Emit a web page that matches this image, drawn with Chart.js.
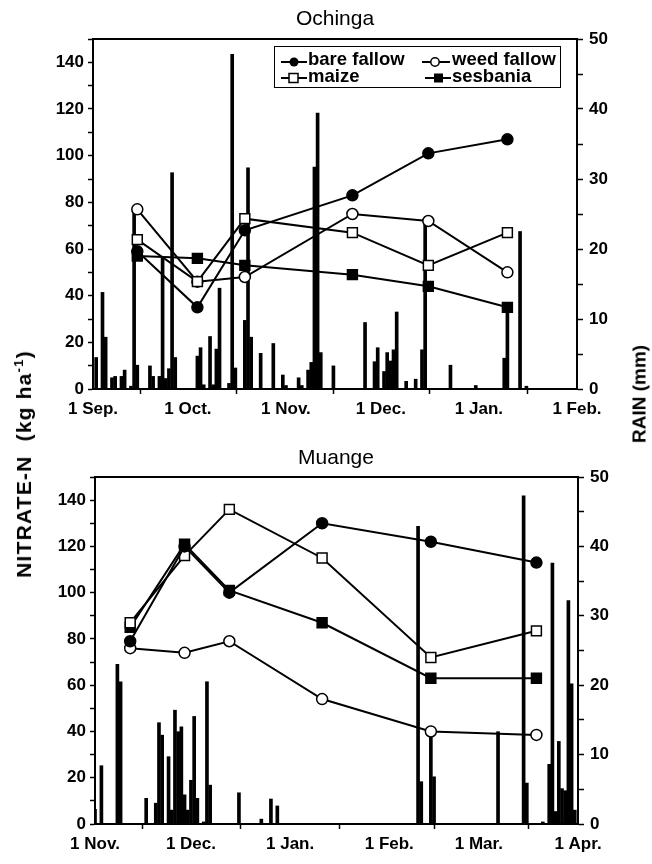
<!DOCTYPE html>
<html>
<head>
<meta charset="utf-8">
<script src="https://cdn.jsdelivr.net/npm/chart.js@4.4.0/dist/chart.umd.min.js"></script>
<style>
  body { margin: 0; background: #fff; }
  #wrap { position: relative; width: 652px; height: 864px; font-family: "Liberation Sans", Arial, sans-serif; color: #000; }
  canvas { position: absolute; left: 0; }
  .title { position: absolute; font-size: 21px; width: 200px; text-align: center; line-height: 21px; }
  .vlab { position: absolute; font-size: 19px; font-weight: bold; white-space: nowrap; line-height: 19px; }
  .lg { position: absolute; font-size: 18.5px; font-weight: bold; line-height: 18.5px; white-space: nowrap; }
  .sym { position: absolute; }
  #legend { position: absolute; left: 274px; top: 46px; width: 285px; height: 40px; border: 1.5px solid #000; }
</style>
</head>
<body>
<div id="wrap">
  <canvas id="top" width="652" height="430" style="top:0"></canvas>
  <canvas id="bot" width="652" height="434" style="top:430px"></canvas>

  <div class="title" style="left:235px; top:7px">Ochinga</div>
  <div class="title" style="left:236px; top:446px">Muange</div>

  <div class="vlab" style="left:21px; top:464px; font-size:21px; letter-spacing:1.2px; transform: translate(-50%,-50%) rotate(-90deg)">NITRATE-N&nbsp; (kg ha<sup style="font-size:13px">-1</sup>)</div>
  <div class="vlab" style="left:639px; top:394px; transform: translate(-50%,-50%) rotate(-90deg)">RAIN (mm)</div>

  <div id="legend"></div>
  <svg class="sym" style="left:280px; top:55px" width="28" height="14"><line x1="1" y1="7" x2="27" y2="7" stroke="#000" stroke-width="2"/><circle cx="14" cy="7" r="4.5" fill="#000"/></svg>
  <div class="lg" style="left:308px; top:50px">bare fallow</div>
  <svg class="sym" style="left:421px; top:55px" width="30" height="14"><line x1="1" y1="7" x2="29" y2="7" stroke="#000" stroke-width="2"/><circle cx="14" cy="7" r="4.2" fill="#fff" stroke="#000" stroke-width="1.5"/></svg>
  <div class="lg" style="left:452px; top:50px">weed fallow</div>
  <svg class="sym" style="left:280px; top:71px" width="28" height="14"><line x1="1" y1="7" x2="27" y2="7" stroke="#000" stroke-width="2"/><rect x="9" y="2.5" width="9" height="9" fill="#fff" stroke="#000" stroke-width="1.5"/></svg>
  <div class="lg" style="left:308px; top:67px">maize</div>
  <svg class="sym" style="left:424px; top:71px" width="28" height="14"><line x1="1" y1="7" x2="27" y2="7" stroke="#000" stroke-width="2"/><rect x="10" y="2.5" width="9" height="9" fill="#000"/></svg>
  <div class="lg" style="left:452px; top:67px">sesbania</div>
</div>

<script>
// ---- Ochinga (top panel), x = days after 1 Sep.
const topMonthDays = [0, 30, 61, 91, 122, 153];
const topMonthLabels = ['1 Sep.', '1 Oct.', '1 Nov.', '1 Dec.', '1 Jan.', '1 Feb.'];
const topSampleDays = [14, 33, 48, 82, 106, 131];
const topBare = [59, 35, 68, 83, 101, 107];
const topWeed = [77, 46, 48, 75, 72, 50];
const topMaize = [64, 46, 73, 67, 53, 67];
const topSesbania = [57, 56, 53, 49, 44, 35];
const topRainDays = [1, 3, 4, 6, 7, 9, 10, 12, 13, 14, 18, 19, 21, 22, 23, 24, 25, 26, 33, 34, 35, 37, 38, 39, 40, 43, 44, 45, 48, 49, 50, 53, 57, 60, 61, 65, 66, 68, 69, 70, 71, 72, 76, 86, 89, 90, 92, 93, 94, 95, 96, 99, 102, 104, 105, 113, 121, 130, 131, 135, 137];
const topRainMm = [4.5, 13.8, 7.4, 1.6, 1.8, 1.8, 2.7, 0.4, 25.2, 3.4, 3.3, 1.8, 1.8, 18.7, 1.5, 2.9, 30.9, 4.5, 4.7, 5.9, 0.6, 7.5, 0.6, 5.7, 14.4, 0.8, 47.8, 3.0, 9.8, 31.6, 7.4, 5.1, 6.5, 2.0, 0.5, 1.6, 0.5, 2.7, 3.8, 31.7, 39.4, 5.2, 3.3, 9.5, 3.9, 5.9, 2.5, 5.2, 4.0, 5.6, 11.0, 1.1, 1.4, 5.6, 23.9, 3.4, 0.5, 4.4, 11.7, 22.5, 0.4];

// ---- Muange (bottom panel), x = days after 1 Nov.
const botMonthDays = [0, 30, 61, 92, 120, 151];
const botMonthLabels = ['1 Nov.', '1 Dec.', '1 Jan.', '1 Feb.', '1 Mar.', '1 Apr.'];
const botSampleDays = [11, 28, 42, 71, 105, 138];
const botBare = [79, 120, 100, 130, 122, 113];
const botWeed = [76, 74, 79, 54, 40, 38.5];
const botMaize = [87, 116, 136, 115, 72, 83.5];
const botSesbania = [85, 121, 101, 87, 63, 63];
const botRainDays = [0, 2, 7, 8, 16, 19, 20, 21, 23, 24, 25, 26, 27, 28, 29, 30, 31, 32, 34, 35, 36, 45, 52, 55, 57, 101, 102, 105, 106, 126, 134, 135, 140, 142, 143, 144, 145, 146, 147, 148, 149, 150];
const botRainMm = [2.1, 8.4, 23.0, 20.5, 3.7, 3.0, 14.6, 12.8, 9.7, 2.0, 16.4, 13.3, 14.0, 4.2, 2.0, 6.3, 15.5, 3.7, 0.3, 20.5, 5.6, 4.5, 0.7, 3.6, 2.6, 42.9, 6.1, 13.3, 6.8, 13.3, 47.3, 5.9, 0.3, 8.6, 37.6, 1.8, 11.9, 5.1, 4.8, 32.2, 20.2, 2.0];

const tickFont = { family: 'Liberation Sans, Arial, sans-serif', size: 17, weight: 'bold' };

const frame = {
  id: 'frame',
  afterDraw(chart) {
    const { ctx, chartArea: a } = chart;
    ctx.save();
    ctx.strokeStyle = '#000';
    ctx.lineWidth = 2;
    ctx.beginPath();
    ctx.moveTo(a.left, a.top);
    ctx.lineTo(a.right, a.top);
    ctx.stroke();
    ctx.restore();
  }
};

function series(days, vals, style, fill, order) {
  return {
    type: 'line',
    data: days.map((d, i) => ({ x: d, y: vals[i] })),
    yAxisID: 'yL',
    borderColor: '#000',
    borderWidth: 2,
    pointStyle: style,
    pointRadius: style === 'rect' ? 7 : 5.5,
    pointBackgroundColor: fill,
    pointBorderColor: '#000',
    pointBorderWidth: 1.5,
    tension: 0,
    order: order
  };
}

function makeChart(id, o) {
  new Chart(document.getElementById(id), {
    type: 'bar',
    data: {
      datasets: [
        series(o.days, o.bare, 'circle', '#000', 0),
        series(o.days, o.maize, 'rect', '#fff', 1),
        series(o.days, o.sesbania, 'rect', '#000', 2),
        series(o.days, o.weed, 'circle', '#fff', 3),
        {
          type: 'bar',
          data: o.rainDays.map((d, i) => ({ x: d, y: o.rainMm[i] })),
          yAxisID: 'yR',
          backgroundColor: '#000',
          barThickness: 3,
          order: 10
        }
      ]
    },
    options: {
      responsive: false,
      animation: false,
      devicePixelRatio: 1,
      layout: { padding: { top: o.padTop, left: 0, right: 0, bottom: 0 } },
      plugins: { legend: { display: false }, tooltip: { enabled: false } },
      scales: {
        x: {
          type: 'linear', offset: false, min: 0, max: o.monthDays[o.monthDays.length - 1],
          afterBuildTicks: s => { s.ticks = o.monthDays.map(v => ({ value: v })); },
          afterFit: s => { s.height = o.xH; },
          ticks: { autoSkip: false, maxRotation: 0, color: '#000', font: tickFont, padding: 5,
                   callback: v => o.monthLabels[o.monthDays.indexOf(v)] },
          grid: { drawOnChartArea: false, drawTicks: true, tickLength: 5, tickColor: '#000', tickWidth: 1.5 },
          border: { display: true, color: '#000', width: 2 }
        },
        yL: {
          position: 'left', min: 0, max: 150,
          afterBuildTicks: s => { s.ticks = [0,10,20,30,40,50,60,70,80,90,100,110,120,130,140,150].map(v => ({ value: v })); },
          afterFit: s => { s.width = o.yLW; },
          ticks: { autoSkip: false, color: '#000', font: tickFont, padding: 4,
                   callback: v => (v % 20 === 0 && v <= 140) ? v : '' },
          grid: { drawOnChartArea: false, drawTicks: true, tickLength: 5, tickColor: '#000', tickWidth: 1.5 },
          border: { display: true, color: '#000', width: 2 }
        },
        yR: {
          position: 'right', min: 0, max: 50,
          afterBuildTicks: s => { s.ticks = [0,5,10,15,20,25,30,35,40,45,50].map(v => ({ value: v })); },
          afterFit: s => { s.width = o.yRW; },
          ticks: { autoSkip: false, color: '#000', font: tickFont, padding: 6,
                   callback: v => (v % 10 === 0) ? v : '' },
          grid: { drawOnChartArea: false, drawTicks: true, tickLength: 6, tickColor: '#000', tickWidth: 1.5 },
          border: { display: true, color: '#000', width: 2 }
        }
      }
    },
    plugins: [frame]
  });
}

makeChart('top', {
  monthDays: topMonthDays, monthLabels: topMonthLabels, days: topSampleDays,
  bare: topBare, weed: topWeed, maize: topMaize, sesbania: topSesbania,
  rainDays: topRainDays, rainMm: topRainMm,
  padTop: 39, xH: 41, yLW: 93, yRW: 75
});

makeChart('bot', {
  monthDays: botMonthDays, monthLabels: botMonthLabels, days: botSampleDays,
  bare: botBare, weed: botWeed, maize: botMaize, sesbania: botSesbania,
  rainDays: botRainDays, rainMm: botRainMm,
  padTop: 47, xH: 40, yLW: 95, yRW: 74
});
</script>
</body>
</html>
